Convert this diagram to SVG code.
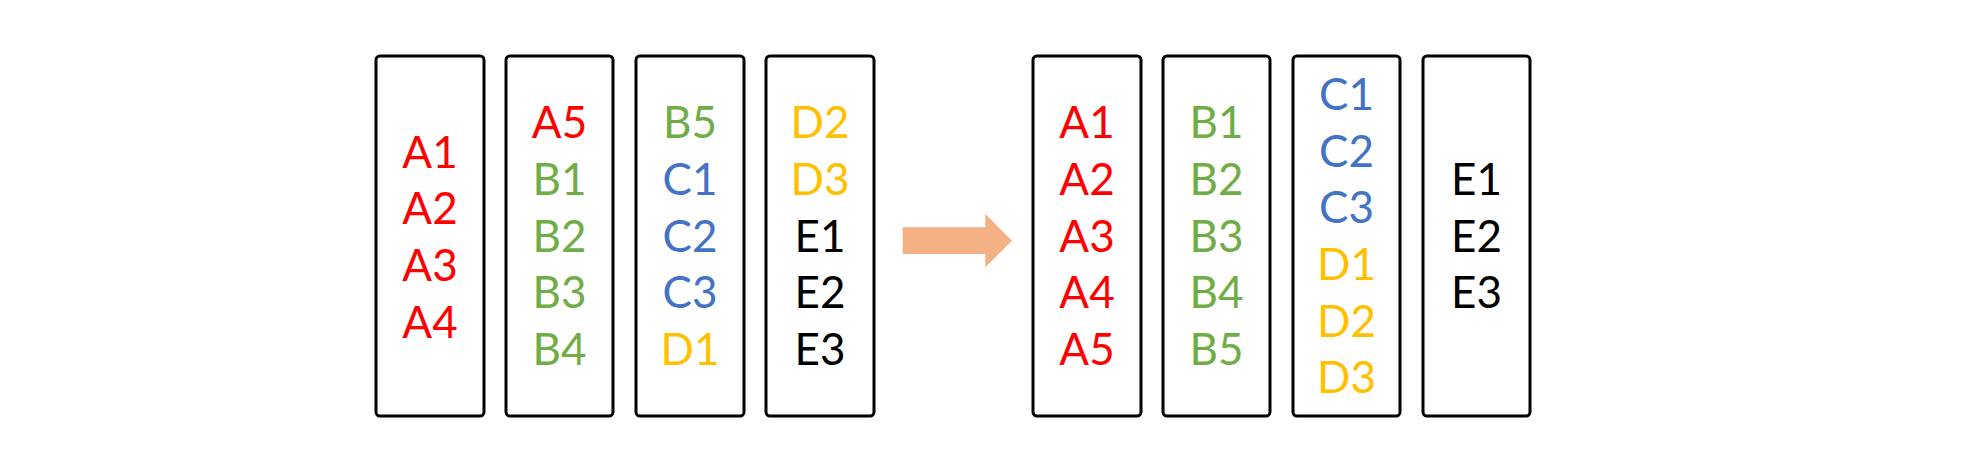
<svg xmlns="http://www.w3.org/2000/svg" width="1974" height="461" viewBox="0 0 1974 461">
<style>
.box{fill:#fff;stroke:#000;stroke-width:3}
text{font-family:Lato,"Open Sans",sans-serif;font-size:44px;text-anchor:middle}
.r{fill:#FF0000}.g{fill:#70AD47}.b{fill:#4472C4}.y{fill:#FFC000}.k{fill:#000}
</style>
<rect width="1974" height="461" fill="#fff"/>
<g id="box1"><rect class="box" x="376" y="56" width="108" height="360" rx="4"/>
<text class="r" x="430" y="167.7">A1</text><text class="r" x="430" y="224.3">A2</text><text class="r" x="430" y="281">A3</text><text class="r" x="430" y="337.7">A4</text></g>
<g id="box2"><rect class="box" x="506" y="56" width="107" height="360" rx="4"/>
<text class="r" x="559.5" y="138.3">A5</text><text class="g" x="559.5" y="195">B1</text><text class="g" x="559.5" y="251.7">B2</text><text class="g" x="559.5" y="308.3">B3</text><text class="g" x="559.5" y="365">B4</text></g>
<g id="box3"><rect class="box" x="636" y="56" width="108" height="360" rx="4"/>
<text class="g" x="690" y="138.3">B5</text><text class="b" x="690" y="195">C1</text><text class="b" x="690" y="251.7">C2</text><text class="b" x="690" y="308.3">C3</text><text class="y" x="690" y="365">D1</text></g>
<g id="box4"><rect class="box" x="766" y="56" width="108" height="360" rx="4"/>
<text class="y" x="820" y="138.3">D2</text><text class="y" x="820" y="195">D3</text><text class="k" x="820" y="251.7">E1</text><text class="k" x="820" y="308.3">E2</text><text class="k" x="820" y="365">E3</text></g>
<g id="connectors"><polygon points="902.7,227.3 985.3,227.3 985.3,214 1012,240.7 985.3,267.3 985.3,254 902.7,254" fill="#F4B183"/></g>
<g id="box5"><rect class="box" x="1033" y="56" width="108" height="360" rx="4"/>
<text class="r" x="1087" y="138.3">A1</text><text class="r" x="1087" y="195">A2</text><text class="r" x="1087" y="251.7">A3</text><text class="r" x="1087" y="308.3">A4</text><text class="r" x="1087" y="365">A5</text></g>
<g id="box6"><rect class="box" x="1163" y="56" width="107" height="360" rx="4"/>
<text class="g" x="1216.5" y="138.3">B1</text><text class="g" x="1216.5" y="195">B2</text><text class="g" x="1216.5" y="251.7">B3</text><text class="g" x="1216.5" y="308.3">B4</text><text class="g" x="1216.5" y="365">B5</text></g>
<g id="box7"><rect class="box" x="1293" y="56" width="107" height="360" rx="4"/>
<text class="b" x="1346.5" y="110">C1</text><text class="b" x="1346.5" y="166.7">C2</text><text class="b" x="1346.5" y="223.3">C3</text><text class="y" x="1346.5" y="280">D1</text><text class="y" x="1346.5" y="336.7">D2</text><text class="y" x="1346.5" y="393.3">D3</text></g>
<g id="box8"><rect class="box" x="1423" y="56" width="107" height="360" rx="4"/>
<text class="k" x="1476.5" y="195">E1</text><text class="k" x="1476.5" y="251.7">E2</text><text class="k" x="1476.5" y="308.3">E3</text></g>
</svg>
